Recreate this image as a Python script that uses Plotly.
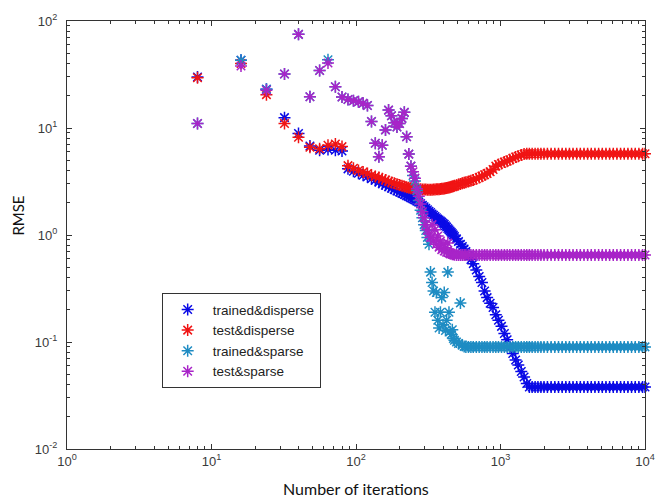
import plotly.graph_objects as go

# ---------------- data ----------------
ITERATIONS = [
    8, 16, 24, 32, 40, 48, 56, 64, 72, 80,
    88, 96, 104, 112, 120, 128, 136, 144, 152, 160,
    168, 176, 184, 192, 200, 208, 216, 224, 232, 240,
    248, 256, 264, 272, 280, 288, 296, 304, 312, 320,
    328, 336, 344, 352, 360, 368, 376, 384, 392, 400,
    408, 416, 424, 432, 440, 448, 456, 464, 472, 480,
    496, 512, 528, 544, 560, 576, 600, 624, 648, 680,
    712, 744, 776, 808, 848, 888, 928, 968, 1016, 1064,
    1112, 1160, 1216, 1272, 1328, 1392, 1456, 1520, 1584, 1656,
    1736, 1816, 1904, 2000, 2112, 2240, 2376, 2520, 2672, 2832,
    3000, 3176, 3368, 3568, 3784, 4008, 4248, 4504, 4776, 5064,
    5368, 5688, 6032, 6392, 6776, 7184, 7616, 8072, 8560, 9072,
    9616, 10000,
]

TRAINED_DISPERSE = [
    30, 43, 23, 12.5, 8.9, 6.8, 6.2, 6.3, 6.2, 6.1,
    4.15, 3.95, 3.78, 3.62, 3.50, 3.36, 3.25, 3.12, 3.02, 2.92,
    2.82, 2.73, 2.66, 2.58, 2.52, 2.45, 2.39, 2.33, 2.28, 2.22,
    2.17, 2.12, 2.07, 2.02, 1.97, 1.90, 1.84, 1.78, 1.72, 1.67,
    1.62, 1.57, 1.53, 1.49, 1.45, 1.41, 1.38, 1.35, 1.32, 1.29,
    1.26, 1.22, 1.19, 1.15, 1.12, 1.09, 1.06, 1.03, 1.00, 0.97,
    0.92, 0.87, 0.82, 0.78, 0.74, 0.70, 0.64, 0.59, 0.54, 0.47,
    0.41, 0.36, 0.30, 0.26, 0.23, 0.21, 0.18, 0.16, 0.14, 0.12,
    0.105, 0.090, 0.078, 0.068, 0.061, 0.053, 0.047, 0.041, 0.038, 0.038,
    0.038, 0.038, 0.038, 0.038, 0.038, 0.038, 0.038, 0.038, 0.038, 0.038,
    0.038, 0.038, 0.038, 0.038, 0.038, 0.038, 0.038, 0.038, 0.038, 0.038,
    0.038, 0.038, 0.038, 0.038, 0.038, 0.038, 0.038, 0.038, 0.038, 0.038,
    0.038, 0.038,
]

TEST_DISPERSE = [
    29.5, 40, 20.5, 11, 8.2, 6.6, 6.4, 6.9, 7.1, 6.7,
    4.45, 4.20, 4.00, 3.88, 3.75, 3.62, 3.53, 3.44, 3.35, 3.26,
    3.17, 3.10, 3.04, 2.98, 2.93, 2.89, 2.84, 2.80, 2.77, 2.74,
    2.72, 2.70, 2.69, 2.68, 2.67, 2.66, 2.66, 2.66, 2.65, 2.65,
    2.65, 2.65, 2.66, 2.66, 2.67, 2.68, 2.68, 2.69, 2.70, 2.71,
    2.72, 2.74, 2.75, 2.77, 2.78, 2.80, 2.82, 2.84, 2.86, 2.88,
    2.92, 2.96, 3.00, 3.04, 3.08, 3.12, 3.17, 3.22, 3.27, 3.35,
    3.45, 3.55, 3.65, 3.75, 3.90, 4.10, 4.40, 4.55, 4.65, 4.80,
    4.90, 5.05, 5.20, 5.35, 5.45, 5.60, 5.70, 5.75, 5.75, 5.75,
    5.75, 5.75, 5.75, 5.75, 5.75, 5.75, 5.75, 5.75, 5.75, 5.75,
    5.75, 5.75, 5.75, 5.75, 5.75, 5.75, 5.75, 5.75, 5.75, 5.75,
    5.75, 5.75, 5.75, 5.75, 5.75, 5.75, 5.75, 5.75, 5.75, 5.75,
    5.75, 5.75,
]

TRAINED_SPARSE = [
    11, 43, 23, 32, 75, 19.6, 34.5, 43.5, 24.3, 19.5,
    18.5, 18.0, 17.6, 17.0, 16.2, 11.5, 7.2, 5.4, 6.9, 9.6,
    14.7, 13.0, 11.2, 10.2, 11.0, 12.3, 14.0, 8.3, 5.7, 4.4,
    3.6, 3.2, 2.6, 2.1, 1.7, 1.45, 1.25, 1.10, 0.95, 0.82,
    0.45, 0.36, 0.30, 0.19, 0.29, 0.16, 0.135, 0.19, 0.26, 0.145,
    0.29, 0.128, 0.16, 0.45, 0.19, 0.125, 0.118, 0.13, 0.108, 0.104,
    0.10, 0.097, 0.232, 0.094, 0.091, 0.09, 0.09, 0.09, 0.09, 0.09,
    0.09, 0.09, 0.09, 0.09, 0.09, 0.09, 0.09, 0.09, 0.09, 0.09,
    0.09, 0.09, 0.09, 0.09, 0.09, 0.09, 0.09, 0.09, 0.09, 0.09,
    0.09, 0.09, 0.09, 0.09, 0.09, 0.09, 0.09, 0.09, 0.09, 0.09,
    0.09, 0.09, 0.09, 0.09, 0.09, 0.09, 0.09, 0.09, 0.09, 0.09,
    0.09, 0.09, 0.09, 0.09, 0.09, 0.09, 0.09, 0.09, 0.09, 0.09,
    0.09, 0.09,
]

TEST_SPARSE = [
    11, 38, 22.5, 32, 75, 19.6, 34.5, 40.5, 24.3, 19.5,
    18.5, 18.0, 17.6, 17.0, 16.2, 11.5, 7.2, 5.4, 6.9, 9.6,
    14.7, 13.0, 11.2, 10.2, 11.0, 12.3, 14.0, 8.3, 5.7, 4.4,
    3.9, 3.4, 2.7, 2.3, 1.95, 1.65, 1.45, 1.25, 1.12, 1.02,
    0.95, 1.25, 0.88, 1.12, 0.82, 0.98, 0.77, 0.88, 0.73, 0.82,
    0.71, 0.76, 0.69, 0.84, 0.68, 0.67, 0.67, 0.66, 0.66, 0.655,
    0.65, 0.65, 0.65, 0.65, 0.65, 0.65, 0.65, 0.65, 0.65, 0.65,
    0.65, 0.65, 0.65, 0.65, 0.65, 0.65, 0.65, 0.65, 0.65, 0.65,
    0.65, 0.65, 0.65, 0.65, 0.65, 0.65, 0.65, 0.65, 0.65, 0.65,
    0.65, 0.65, 0.65, 0.65, 0.65, 0.65, 0.65, 0.65, 0.65, 0.65,
    0.65, 0.65, 0.65, 0.65, 0.65, 0.65, 0.65, 0.65, 0.65, 0.65,
    0.65, 0.65, 0.65, 0.65, 0.65, 0.65, 0.65, 0.65, 0.65, 0.65,
    0.65, 0.65,
]

SERIES_NAMES = ["trained&disperse", "test&disperse", "trained&sparse", "test&sparse"]
SERIES_COLORS = ["#0a0ae6", "#f01414", "#1e8cc3", "#a824c8"]

X_TICK_VALUES = [1, 10, 100, 1000, 10000]
X_TICK_TEXT = ["10<sup>0</sup>", "10<sup>1</sup>", "10<sup>2</sup>", "10<sup>3</sup>", "10<sup>4</sup>"]
Y_TICK_VALUES = [0.01, 0.1, 1, 10, 100]
Y_TICK_TEXT = ["10<sup>-2</sup>", "10<sup>-1</sup>", "10<sup>0</sup>", "10<sup>1</sup>", "10<sup>2</sup>"]

# minor (log) tick positions
minor_x = [m * 10 ** k for k in range(0, 4) for m in range(2, 10)]
minor_y = [m * 10.0 ** k for k in range(-2, 2) for m in range(2, 10)]

fig = go.Figure()
for name, color, ys in zip(SERIES_NAMES, SERIES_COLORS,
                           [TRAINED_DISPERSE, TEST_DISPERSE, TRAINED_SPARSE, TEST_SPARSE]):
    fig.add_trace(go.Scatter(
        x=ITERATIONS, y=ys, name=name, mode="markers",
        cliponaxis=False,
        marker=dict(symbol="asterisk-open", size=10, color=color,
                    line=dict(color=color, width=1.5)),
    ))

axis_common = dict(
    showline=True, linecolor="#333333", linewidth=1, mirror="allticks",
    ticks="inside", ticklen=5, tickwidth=1, tickcolor="#333333",
    showgrid=False, zeroline=False,
    tickfont=dict(family="Liberation Sans, Arial", size=13, color="#3a3a3a"),
)

fig.update_xaxes(type="log", range=[0, 4], tickmode="array",
                 tickvals=X_TICK_VALUES, ticktext=X_TICK_TEXT,
                 minor=dict(tickmode="array", tickvals=minor_x, ticks="inside",
                            ticklen=3, tickcolor="#333333", showgrid=False),
                 **axis_common)
fig.update_yaxes(type="log", range=[-2, 2], tickmode="array",
                 tickvals=Y_TICK_VALUES, ticktext=Y_TICK_TEXT,
                 ticklabelstandoff=6,
                 minor=dict(tickmode="array", tickvals=minor_y, ticks="inside",
                            ticklen=3, tickcolor="#333333", showgrid=False),
                 **axis_common)

fig.add_annotation(text="Number of iterations", xref="paper", yref="paper",
                   x=0.5, y=-0.093, xanchor="center", yanchor="middle",
                   showarrow=False, font=dict(family="Lato", size=16, color="#111111"))
fig.add_annotation(text="RMSE", xref="paper", yref="paper",
                   x=-0.085, y=0.545, xanchor="center", yanchor="middle", textangle=-90,
                   showarrow=False, font=dict(family="Lato", size=15, color="#111111"))

fig.update_layout(
    width=666, height=502,
    margin=dict(l=67, r=11, t=21, b=53),
    paper_bgcolor="white", plot_bgcolor="white",
    showlegend=True,
    legend=dict(x=0.1638, y=0.3638, xanchor="left", yanchor="top",
                bordercolor="#333333", borderwidth=1, bgcolor="white",
                itemwidth=40, tracegroupgap=0,
                font=dict(family="Liberation Sans, Arial", size=13.5, color="#222222")),
)

fig.write_html("out.html", config={"displayModeBar": False},
               post_script="document.body.style.margin='0';document.body.style.overflow='hidden';")
